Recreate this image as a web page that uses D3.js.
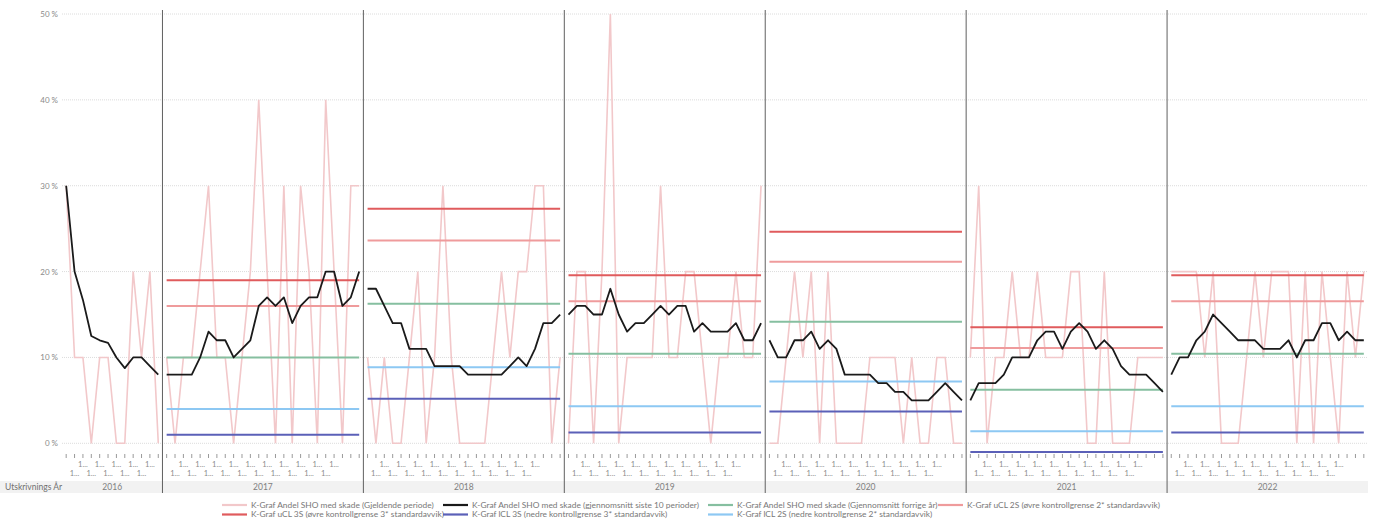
<!DOCTYPE html>
<html>
<head>
<meta charset="utf-8">
<script src="https://cdn.jsdelivr.net/npm/d3@7"></script>
<style>
  body { margin: 0; background: #fff; }
  svg { display: block; font-family: Lato, "Open Sans", sans-serif; }
</style>
</head>
<body>
<div id="chart"></div>
<script>
// years and number of periods in each
var years = ["2016", "2017", "2018", "2019", "2020", "2021", "2022"];
var periodCount = [12, 24, 24, 24, 24, 24, 24];

// K-Graf Andel SHO med skade (Gjeldende periode), % per period
var gjeldende = [
  [30, 10, 10, 0, 10, 10, 0, 0, 20, 10, 20, 0],
  [10, 0, 10, 10, 20, 30, 10, 10, 0, 10, 20, 40, 20, 0, 30, 0, 30, 20, 0, 40, 20, 0, 30, 30],
  [10, 0, 10, 0, 0, 10, 20, 0, 10, 30, 10, 0, 0, 0, 0, 10, 20, 10, 20, 20, 30, 30, 0, 10],
  [0, 20, 20, 0, 20, 50, 0, 10, 10, 10, 10, 30, 10, 10, 20, 20, 10, 0, 10, 10, 20, 10, 10, 30],
  [0, 0, 10, 20, 10, 20, 0, 20, 0, 0, 0, 0, 10, 10, 10, 10, 0, 10, 0, 0, 10, 10, 0, 0],
  [10, 30, 0, 10, 10, 20, 10, 10, 20, 10, 10, 10, 20, 20, 0, 0, 20, 0, 0, 0, 10, 10, 10, 10],
  [20, 20, 20, 20, 10, 20, 0, 0, 0, 10, 20, 10, 20, 20, 20, 0, 20, 0, 20, 10, 0, 20, 10, 20]
];

// K-Graf Andel SHO med skade (gjennomsnitt siste 10 perioder)
var snitt10 = [
  [30, 20, 16.7, 12.5, 12, 11.7, 10, 8.75, 10, 10, 9, 8],
  [8, 8, 8, 8, 10, 13, 12, 12, 10, 11, 12, 16, 17, 16, 17, 14, 16, 17, 17, 20, 20, 16, 17, 20],
  [18, 18, 16, 14, 14, 11, 11, 11, 9, 9, 9, 9, 8, 8, 8, 8, 8, 9, 10, 9, 11, 14, 14, 15],
  [15, 16, 16, 15, 15, 18, 15, 13, 14, 14, 15, 16, 15, 16, 16, 13, 14, 13, 13, 13, 14, 12, 12, 14],
  [12, 10, 10, 12, 12, 13, 11, 12, 11, 8, 8, 8, 8, 7, 7, 6, 6, 5, 5, 5, 6, 7, 6, 5],
  [5, 7, 7, 7, 8, 10, 10, 10, 12, 13, 13, 11, 13, 14, 13, 11, 12, 11, 9, 8, 8, 8, 7, 6],
  [8, 10, 10, 12, 13, 15, 14, 13, 12, 12, 12, 11, 11, 11, 12, 10, 12, 12, 14, 14, 12, 13, 12, 12]
];

// yearly reference lines (none for 2016)
var snittForrigeAar = [null, 10, 16.25, 10.42, 14.17, 6.25, 10.42];
var ucl3s = [null, 19, 27.32, 19.58, 24.63, 13.51, 19.58];
var ucl2s = [null, 16, 23.63, 16.53, 21.14, 11.09, 16.53];
var lcl2s = [null, 4, 8.87, 4.31, 7.19, 1.41, 4.31];
var lcl3s = [null, 1, 5.18, 1.25, 3.71, -1.01, 1.25];

var yTicks = [0, 10, 20, 30, 40, 50];
var periodLabel = "1...";
var axisTitle = "Utskrivnings År";

var legendNames = [
  "K-Graf Andel SHO med skade (Gjeldende periode)",
  "K-Graf Andel SHO med skade (gjennomsnitt siste 10 perioder)",
  "K-Graf Andel SHO med skade (Gjennomsnitt forrige år)",
  "K-Graf uCL 2S (øvre kontrollgrense 2* standardavvik)",
  "K-Graf uCL 3S (øvre kontrollgrense 3* standardavvik)",
  "K-Graf lCL 3S (nedre kontrollgrense 3* standardavvik)",
  "K-Graf lCL 2S (nedre kontrollgrense 2* standardavvik)"
];

// colours
var cPink = "#f2c8ca", cBlack = "#1a1a1a", cGreen = "#86bfa0",
  cSalmon = "#ef9b9c", cRed = "#e05b5d", cNavy = "#5b60b8", cSky = "#8dc8f3";

// dimensions
var W = 1378, H = 519;
var left = 62, right = 1368;

var svg = d3.select("#chart").append("svg")
  .attr("width", W).attr("height", H);

// one key per period
var keys = [];
years.forEach(function (yr, i) {
  for (var k = 0; k < periodCount[i]; k++) keys.push(yr + "-" + k);
});

var xb = d3.scaleBand().domain(keys).range([left, right]).padding(0);
function xp(yr, k) { return xb(yr + "-" + k) + xb.bandwidth() / 2; }

var y = d3.scaleLinear().domain([0, 50]).range([443.3, 14]);

// gridlines + y labels
var grid = svg.append("g");
grid.selectAll("line").data(yTicks).join("line")
  .attr("x1", left).attr("x2", right)
  .attr("y1", function (d) { return y(d); }).attr("y2", function (d) { return y(d); })
  .attr("stroke", "#dcdcdc").attr("stroke-width", 1)
  .attr("stroke-dasharray", "1,1");
grid.selectAll("text").data(yTicks).join("text")
  .attr("x", 58).attr("y", function (d) { return y(d) + 3; })
  .attr("text-anchor", "end").attr("font-size", 8).attr("fill", "#8a8a8a")
  .text(function (d) { return d + " %"; });

// axis title band
svg.append("rect").attr("x", 0).attr("y", 481).attr("width", right).attr("height", 12)
  .attr("fill", "#f2f2f2");
svg.append("text").attr("x", 5).attr("y", 490).attr("font-size", 8.5)
  .attr("fill", "#707070").text(axisTitle);

// panel separators
var seps = years.slice(1).map(function (yr) { return xb(yr + "-0"); });
svg.append("g").selectAll("line").data(seps).join("line")
  .attr("x1", function (d) { return d; }).attr("x2", function (d) { return d; })
  .attr("y1", 10).attr("y2", 493)
  .attr("stroke", "#606060").attr("stroke-width", 1);

// year labels
svg.append("g").selectAll("text").data(years).join("text")
  .attr("x", function (yr, i) {
    return (xb(yr + "-0") + xb(yr + "-" + (periodCount[i] - 1)) + xb.bandwidth()) / 2;
  })
  .attr("y", 490).attr("text-anchor", "middle").attr("font-size", 8.5)
  .attr("fill", "#808080").text(function (d) { return d; });

// ticks and truncated period labels
var tickG = svg.append("g");
years.forEach(function (yr, i) {
  var n = periodCount[i];
  for (var k = 0; k < n; k++) {
    var px = xp(yr, k);
    tickG.append("line").attr("x1", px).attr("x2", px).attr("y1", 454).attr("y2", 458)
      .attr("stroke", "#9a9a9a").attr("stroke-width", 1);
    var last = n === 12 ? 10 : 20;
    if (k >= 1 && k <= last) {
      tickG.append("text").attr("x", px)
        .attr("y", k % 2 === 0 ? 467 : 476)
        .attr("text-anchor", "middle").attr("font-size", 7.5).attr("fill", "#8a8a8a")
        .text(periodLabel);
    }
  }
});

var line = d3.line()
  .x(function (d) { return d.x; })
  .y(function (d) { return y(d.v); });

function pts(yr, arr) {
  return arr.map(function (v, k) { return { x: xp(yr, k), v: v }; });
}
function flat(yr, n, v) {
  var a = [];
  for (var k = 0; k < n; k++) a.push({ x: xp(yr, k), v: v });
  return a;
}

var marks = svg.append("g");

// reference lines per year
var refSeries = [
  { vals: lcl3s, color: cNavy },
  { vals: lcl2s, color: cSky },
  { vals: snittForrigeAar, color: cGreen },
  { vals: ucl2s, color: cSalmon },
  { vals: ucl3s, color: cRed }
];
years.forEach(function (yr, i) {
  // current period
  marks.append("path").datum(pts(yr, gjeldende[i]))
    .attr("d", line).attr("fill", "none")
    .attr("stroke", cPink).attr("stroke-width", 1.6);
});
years.forEach(function (yr, i) {
  refSeries.forEach(function (s) {
    if (s.vals[i] == null) return;
    marks.append("path").datum(flat(yr, periodCount[i], s.vals[i]))
      .attr("d", line).attr("fill", "none")
      .attr("stroke", s.color).attr("stroke-width", 2);
  });
});
years.forEach(function (yr, i) {
  marks.append("path").datum(pts(yr, snitt10[i]))
    .attr("d", line).attr("fill", "none")
    .attr("stroke", cBlack).attr("stroke-width", 1.8)
    .attr("stroke-linejoin", "round");
});

// legend
var legendColors = [cPink, cBlack, cGreen, cSalmon, cRed, cNavy, cSky];
var legendX = [222, 443, 708, 938, 222, 443, 708];
var legendRow = [0, 0, 0, 0, 1, 1, 1];
var lg = svg.append("g");
legendNames.forEach(function (name, i) {
  var lx = legendX[i], ly = 505 + legendRow[i] * 9.5;
  lg.append("line").attr("x1", lx).attr("x2", lx + 25).attr("y1", ly).attr("y2", ly)
    .attr("stroke", legendColors[i]).attr("stroke-width", 2.2);
  lg.append("text").attr("x", lx + 29).attr("y", ly + 2.8)
    .attr("font-size", 8.4).attr("fill", "#777").text(name);
});
</script>
</body>
</html>
